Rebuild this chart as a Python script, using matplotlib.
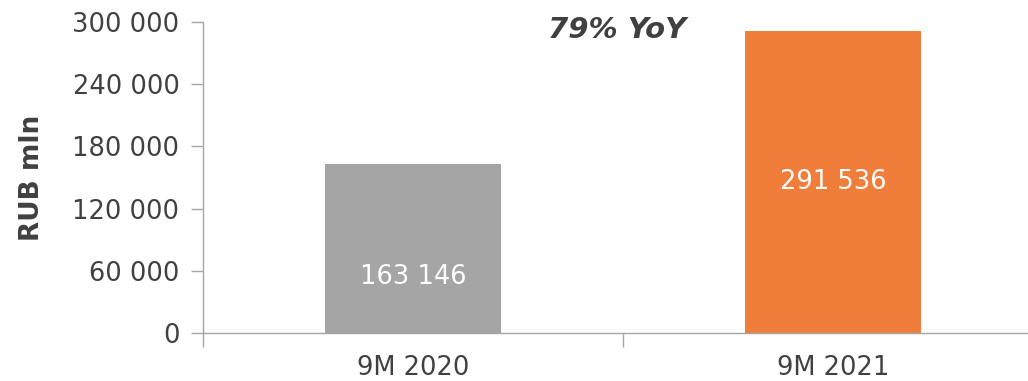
import matplotlib.pyplot as plt
from matplotlib.ticker import FuncFormatter

periods = ['9M 2020', '9M 2021']
revenue = [163146, 291536]
bar_colors = ['#A5A5A5', '#F07D3A']
label_frac = [0.33, 0.5]          # where the value label sits inside each bar

plt.rcParams['font.family'] = ['DejaVu Sans']
txt = '#404040'
axc = '#A6A6A6'

fig = plt.figure(figsize=(10.28, 3.81), dpi=100)
ax = fig.add_axes([0.1975, 0.126, 0.817, 0.816])

x = list(range(len(periods)))
ax.bar(x, revenue, width=0.42, color=bar_colors)

for xi, v, f in zip(x, revenue, label_frac):
    ax.text(xi, v * f, f'{v:,}'.replace(',', ' '), ha='center', va='center',
            color='white', fontsize=18.5)

ax.set_xlim(-0.5, 1.5)
ax.set_ylim(0, 300000)
ax.set_yticks(range(0, 300001, 60000))
ax.yaxis.set_major_formatter(FuncFormatter(lambda v, p: f'{int(v):,}'.replace(',', ' ')))

# category labels in the middle, tick marks on the boundaries
ax.set_xticks([-0.5, 0.5, 1.5])
ax.set_xticklabels([])
ax.set_xticks(x, minor=True)
ax.set_xticklabels(periods, minor=True)
ax.tick_params(axis='x', which='minor', length=0, pad=16, labelsize=18.5, labelcolor=txt)
ax.tick_params(axis='x', which='major', length=10, color=axc, width=1)
ax.tick_params(axis='y', length=9, color=axc, width=1, labelsize=18.5, labelcolor=txt, pad=8)

for s in ['top', 'right']:
    ax.spines[s].set_visible(False)
for s in ['left', 'bottom']:
    ax.spines[s].set_color(axc)
    ax.spines[s].set_linewidth(1)

ax.set_ylabel('RUB mln', fontsize=19, fontweight='bold', color=txt)
ax.yaxis.set_label_coords(-0.188, 0.5)

fig.text(0.6, 0.921, '79% YoY', ha='center', va='center', fontsize=21,
         fontweight='bold', fontstyle='italic', color=txt)

fig.savefig('out.png', dpi=100)
